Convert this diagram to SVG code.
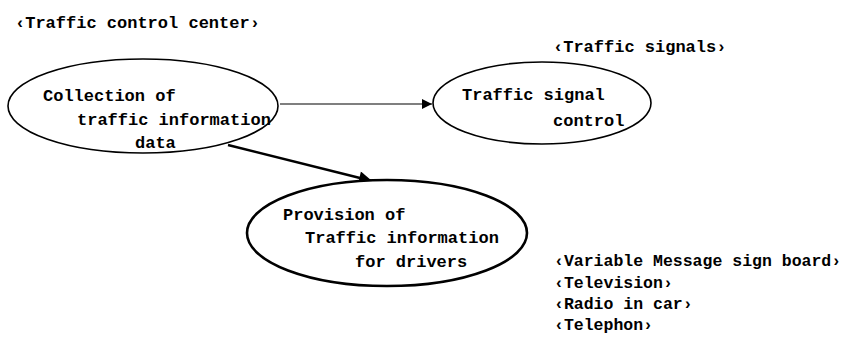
<svg xmlns="http://www.w3.org/2000/svg" width="844" height="341" viewBox="0 0 844 341">
<style>
text{font-family:"Liberation Mono","DejaVu Sans Mono",monospace;font-size:17px;font-weight:bold;fill:#000}
.l{font-size:16.5px}
.n{fill:#fff;stroke:#000}
</style>
<defs>
<marker id="ah" viewBox="0 0 10 10" refX="10" refY="5" markerWidth="20" markerHeight="10" markerUnits="userSpaceOnUse" orient="auto"><path d="M0,0L10,5L0,10z" fill="#000"/></marker>
<marker id="ah2" viewBox="0 0 10 10" refX="10" refY="5" markerWidth="8" markerHeight="5" orient="auto"><path d="M0,0L10,5L0,10z" fill="#000"/></marker>
</defs>
<rect width="844" height="341" fill="#fff"/>
<text x="15" y="28">‹Traffic control center›</text>
<text x="553" y="52">‹Traffic signals›</text>
<g id="connectors" fill="none" stroke="#000">
<line x1="280" y1="104" x2="432" y2="104" stroke-width="1.2" marker-end="url(#ah)"/>
<line x1="228" y1="145" x2="372" y2="181" stroke-width="2.6" marker-end="url(#ah2)"/>
</g>
<g id="collection">
<ellipse class="n" cx="143" cy="106" rx="135" ry="47" stroke-width="1.6"/>
<text x="43" y="101">Collection of</text>
<text x="77" y="125">traffic information</text>
<text x="135" y="148">data</text>
</g>
<g id="signal">
<ellipse class="n" cx="542" cy="103" rx="109" ry="41" stroke-width="1.6"/>
<text x="462" y="100">Traffic signal</text>
<text x="553" y="126">control</text>
</g>
<g id="provision">
<ellipse class="n" cx="387" cy="233" rx="140" ry="53" stroke-width="2.6"/>
<text x="283" y="220">Provision of</text>
<text x="305" y="243">Traffic information</text>
<text x="355" y="267">for drivers</text>
</g>
<g id="media">
<text class="l" x="554" y="266">‹Variable Message sign board›</text>
<text class="l" x="554" y="288">‹Television›</text>
<text class="l" x="554" y="309">‹Radio in car›</text>
<text class="l" x="554" y="330">‹Telephon›</text>
</g>
</svg>
